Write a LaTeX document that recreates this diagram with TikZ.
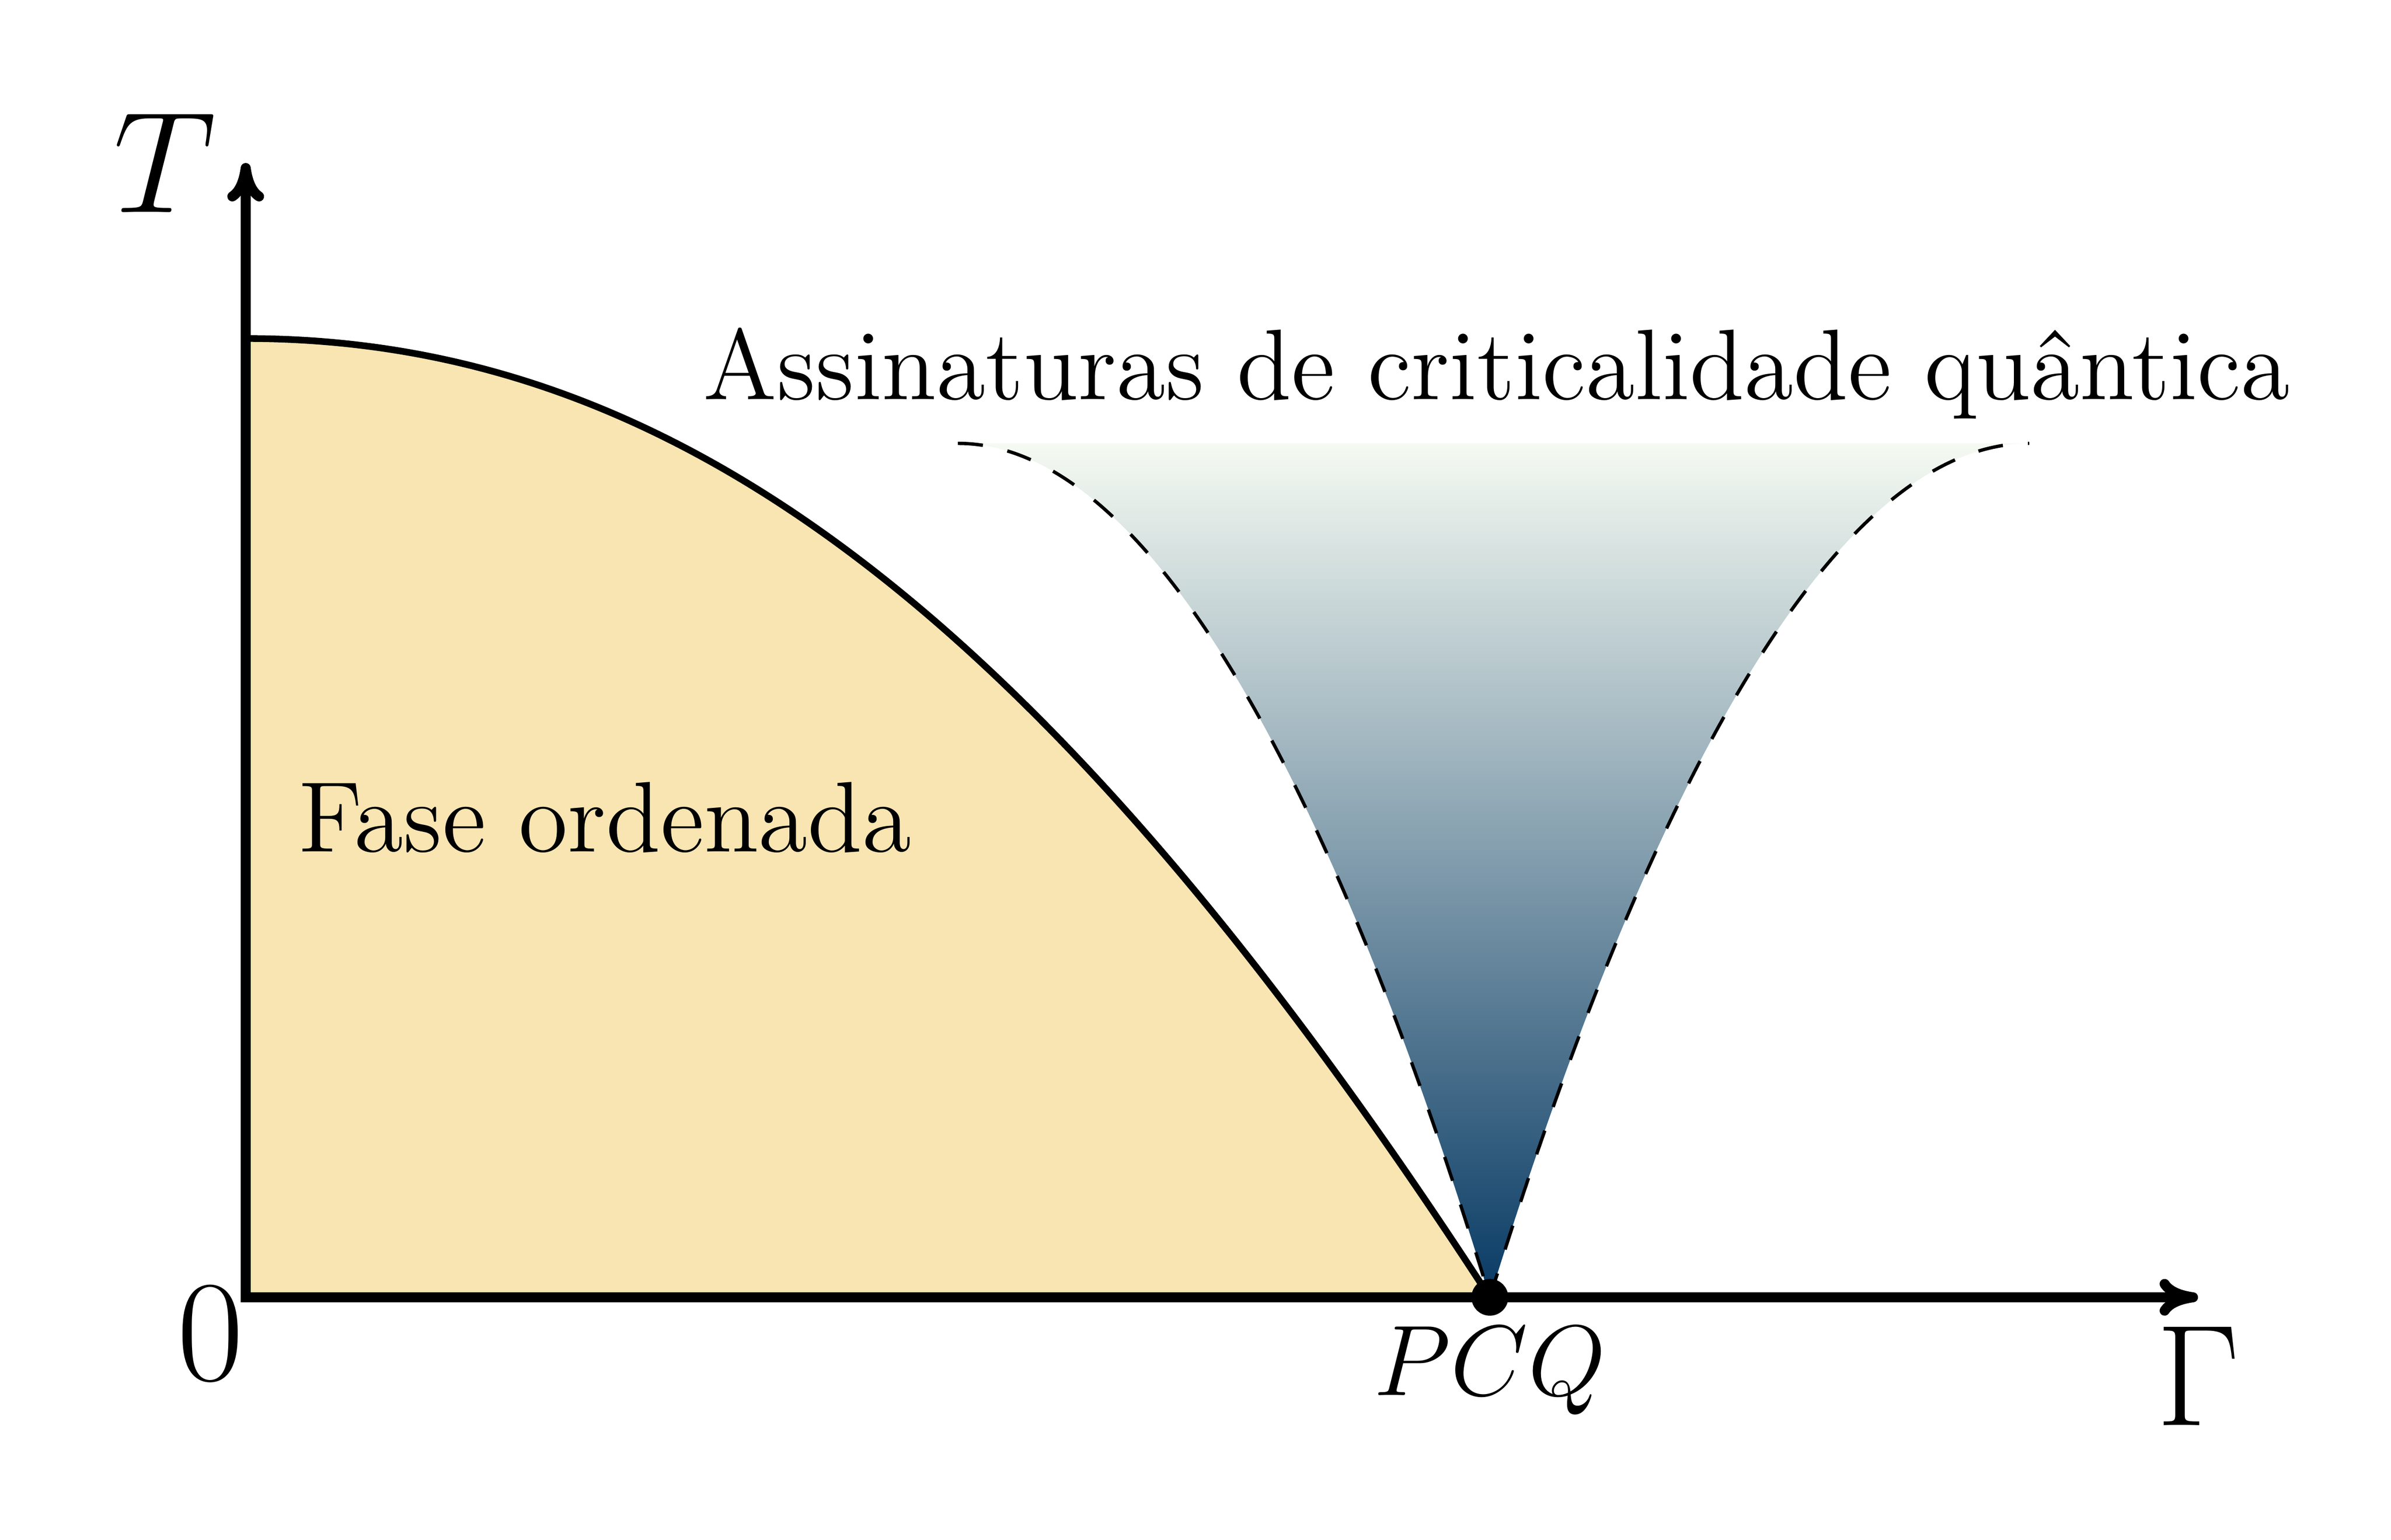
\documentclass[tikz,border=0pt]{standalone}
\usepackage{tikz}
\usetikzlibrary{arrows.meta}
\definecolor{phasefill}{RGB}{248,229,178}
\definecolor{qctop}{RGB}{245,250,242}
\definecolor{qcbottom}{RGB}{8,58,100}

\begin{document}
\begin{tikzpicture}[
        >={Computer Modern Rightarrow[round,length=4.6pt,width=4.4pt]},
        axis/.style={<->, line width=1.2pt},
        boundary/.style={thick},
        crossover/.style={dashed},
        txt/.style={font=\large, inner sep=0pt}
    ]

    \useasboundingbox (-1.0333,-1.0186) rectangle (9.0215,5.4555);

    \coordinate (origin) at (0,0);
    \coordinate (ytop) at (0,4.77);
    \coordinate (xend) at (8.21,0);
    \coordinate (tc) at (0,4.032);
    \coordinate (pcq) at (5.232,0);
    \coordinate (qcl) at (2.995,3.591);
    \coordinate (qcr) at (7.50,3.591);

    % fase ordenada
    \fill[phasefill] (origin) -- (tc) .. controls (1.743,4.032) and (3.31,2.96) .. (pcq) -- cycle;
    % leque critico
    \shade[top color=qctop, bottom color=qcbottom] (qcl) parabola (pcq) parabola[bend at end] (qcr) -- cycle;
    \draw[crossover] (qcl) parabola (pcq);
    \draw[crossover] (pcq) parabola[bend at end] (qcr);
    \draw[boundary] (tc) .. controls (1.743,4.032) and (3.31,2.96) .. (pcq);

    \draw[axis] (ytop) -- (origin) -- (xend);
    \fill (pcq) circle (2.2pt);

    \node[left, font=\LARGE] (tlabel) at (ytop) {$T$};
    \node[below, font=\LARGE] (glabel) at (xend) {$\Gamma$};
    \node[font=\LARGE] (zero) at (-0.149,-0.153) {$0$};
    \node[below, font=\large] (pcqlabel) at (pcq) {$PCQ$};
    \node[txt, anchor=base west] (fase) at (0.215,1.873) {Fase ordenada};
    \node[txt, anchor=base west] (assin) at (1.918,3.775) {Assinaturas de criticalidade quântica};

\end{tikzpicture}
\end{document}
